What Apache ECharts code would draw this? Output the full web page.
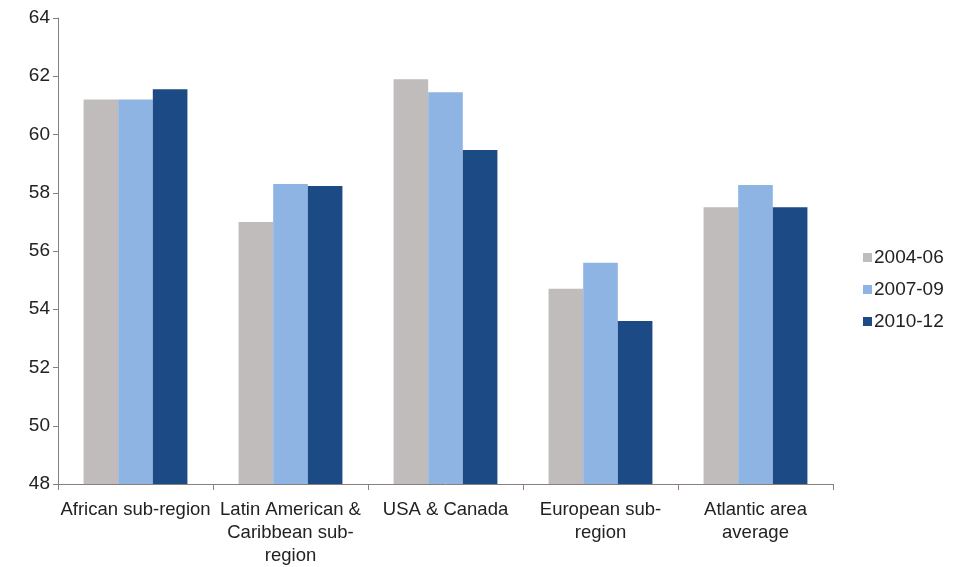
<!DOCTYPE html>
<html>
<head>
<meta charset="utf-8">
<script src="https://cdn.jsdelivr.net/npm/echarts@6/dist/echarts.min.js"></script>
<style>html,body{margin:0;padding:0;background:#fff}#c{width:962px;height:567px}</style>
</head>
<body>
<div id="c"></div>
<script>
const categories = ["African sub-region", "Latin American &\nCaribbean sub-\nregion", "USA & Canada", "European sub-\nregion", "Atlantic area\naverage"];
const seriesNames = ["2004-06", "2007-09", "2010-12"];
const s2004 = [61.2, 57.0, 61.9, 54.7, 57.5];
const s2007 = [61.2, 58.3, 61.45, 55.6, 58.27];
const s2010 = [61.55, 58.23, 59.47, 53.6, 57.5];
const yTicks = [48, 50, 52, 54, 56, 58, 60, 62, 64];
const colors = ["#bfbcbb", "#8eb4e3", "#1c4a85"];

const chart = echarts.init(document.getElementById('c'));
const font = "'Liberation Sans', Arial, sans-serif";
chart.setOption({
  animation: false,
  textStyle: {fontFamily: font},
  grid: {left: 58, right: 129, top: 18, bottom: 83, containLabel: false},
  legend: {
    orient: 'vertical', left: 858, top: 243, itemWidth: 9, itemHeight: 9, itemGap: 13,
    icon: 'rect',
    textStyle: {fontSize: 19, color: '#222', fontFamily: font, padding: [0,0,0,-3]},
    data: seriesNames
  },
  xAxis: {
    type: 'category', data: categories,
    axisLine: {lineStyle: {color: '#8a7f7c', width: 1}},
    axisTick: {show: true, length: 6, lineStyle: {color: '#8a7f7c'}},
    axisLabel: {fontSize: 18.5, color: '#222', lineHeight: 23, margin: 14, interval: 0, fontFamily: font}
  },
  yAxis: {
    type: 'value', min: yTicks[0], max: yTicks[yTicks.length-1], interval: 2,
    axisLine: {show: true, lineStyle: {color: '#8a7f7c', width: 1}},
    axisTick: {show: true, length: 5, lineStyle: {color: '#8a7f7c'}},
    splitLine: {show: false},
    axisLabel: {fontSize: 19, color: '#222', margin: 8, fontFamily: font}
  },
  series: [
    {name: seriesNames[0], type: 'bar', data: s2004, itemStyle: {color: colors[0]}, barGap: '0%', barCategoryGap: '33%'},
    {name: seriesNames[1], type: 'bar', data: s2007, itemStyle: {color: colors[1]}, barGap: '0%', barCategoryGap: '33%'},
    {name: seriesNames[2], type: 'bar', data: s2010, itemStyle: {color: colors[2]}, barGap: '0%', barCategoryGap: '33%'}
  ]
});
</script>
</body>
</html>
